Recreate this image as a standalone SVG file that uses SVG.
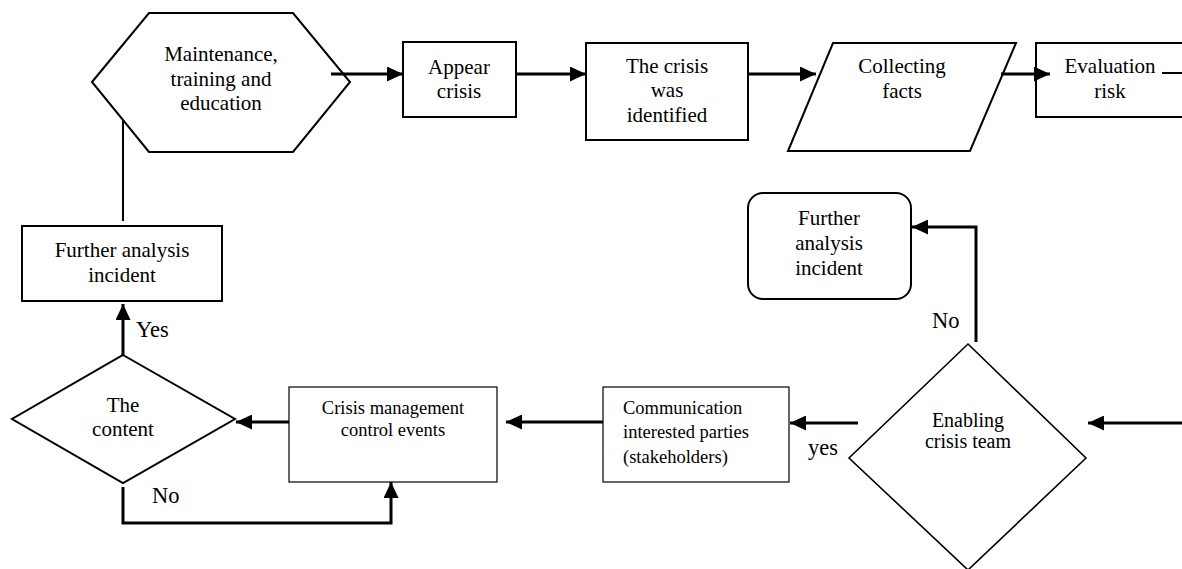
<svg xmlns="http://www.w3.org/2000/svg" width="1182" height="569" viewBox="0 0 1182 569" font-family="'Liberation Serif', 'DejaVu Serif', serif">
  <style>
    text { fill: #000; text-anchor: middle; }
    .t21 { font-size: 21px; }
    .t20 { font-size: 20px; }
    .t18 { font-size: 18.5px; }
    .lbl { font-size: 22.5px; text-anchor: start; }
    .shape { fill: #fff; stroke: #000; stroke-width: 2; }
    .thin { fill: #fff; stroke: #000; stroke-width: 1.2; }
    .conn { fill: none; stroke: #000; stroke-width: 3; }
    .plain { fill: none; stroke: #000; stroke-width: 2; }
  </style>
  <defs>
    <marker id="arrow" markerUnits="userSpaceOnUse" markerWidth="16" markerHeight="15" refX="16" refY="7.5" orient="auto">
      <path d="M0,0 L16,7.5 L0,15 z" fill="#000"/>
    </marker>
  </defs>
  <rect width="1182" height="569" fill="#fff"/>

  <!-- nodes -->
  <g id="maintenance">
    <polygon class="shape" points="92,82 149,13 293,13 350,82 293,152 149,152"/>
    <text class="t21" x="221" y="61">Maintenance,</text>
    <text class="t21" x="221" y="86">training and</text>
    <text class="t21" x="221" y="110">education</text>
  </g>
  <g id="appear-crisis">
    <rect class="shape" x="403" y="42" width="113" height="75"/>
    <text class="t21" x="459" y="74">Appear</text>
    <text class="t21" x="459" y="98">crisis</text>
  </g>
  <g id="crisis-identified">
    <rect class="shape" x="586" y="43" width="162" height="97"/>
    <text class="t21" x="667" y="73">The crisis</text>
    <text class="t21" x="667" y="97">was</text>
    <text class="t21" x="667" y="122">identified</text>
  </g>
  <g id="collecting-facts">
    <polygon class="shape" points="833,43 1016,43 970,151 788,151"/>
    <text class="t21" x="902" y="73">Collecting</text>
    <text class="t21" x="902" y="98">facts</text>
  </g>
  <g id="evaluation-risk">
    <rect class="shape" x="1036" y="43" width="160" height="74"/>
    <text class="t21" x="1110" y="73">Evaluation</text>
    <text class="t21" x="1110" y="98">risk</text>
  </g>
  <g id="further-analysis-left">
    <rect class="shape" x="22" y="226" width="200" height="75"/>
    <text class="t21" x="122" y="257">Further analysis</text>
    <text class="t21" x="122" y="282">incident</text>
  </g>
  <g id="the-content">
    <polygon class="shape" points="123,355 235,419 123,483 12,419"/>
    <text class="t21" x="123" y="412">The</text>
    <text class="t21" x="123" y="436">content</text>
  </g>
  <g id="crisis-management">
    <rect class="thin" x="289" y="387" width="208" height="95"/>
    <text class="t18" x="393" y="414">Crisis management</text>
    <text class="t18" x="393" y="436">control events</text>
  </g>
  <g id="communication">
    <rect class="thin" x="603" y="387" width="186" height="95"/>
    <text class="t18" x="623" y="414" style="text-anchor:start">Communication</text>
    <text class="t18" x="623" y="438" style="text-anchor:start">interested parties</text>
    <text class="t18" x="623" y="463" style="text-anchor:start">(stakeholders)</text>
  </g>
  <g id="enabling-crisis-team">
    <polygon class="shape" style="stroke-width:1.6" points="968,344 1086,458 968,570 849,458"/>
    <text class="t20" x="968" y="427">Enabling</text>
    <text class="t20" x="968" y="448">crisis team</text>
  </g>
  <g id="further-analysis-right">
    <rect class="shape" x="748" y="193" width="163" height="106" rx="15" ry="15"/>
    <text class="t21" x="829" y="225">Further</text>
    <text class="t21" x="829" y="250">analysis</text>
    <text class="t21" x="829" y="275">incident</text>
  </g>

  <!-- connectors -->
  <g id="connectors">
    <path class="conn" d="M331,74 H403" marker-end="url(#arrow)"/>
    <path class="conn" d="M516,74 H586" marker-end="url(#arrow)"/>
    <path class="conn" d="M748,74 H816" marker-end="url(#arrow)"/>
    <path class="conn" d="M1001,74 H1050" marker-end="url(#arrow)"/>
    <path class="plain" d="M1162,73 H1182"/>
    <path class="plain" d="M123,221 V120"/>
    <path class="conn" d="M123,355 V304" marker-end="url(#arrow)"/>
    <path class="conn" d="M289,422 H236" marker-end="url(#arrow)"/>
    <path class="conn" d="M123,487 V523 H391 V482" marker-end="url(#arrow)"/>
    <path class="conn" d="M603,422 H506" marker-end="url(#arrow)"/>
    <path class="conn" d="M858,423 H790" marker-end="url(#arrow)"/>
    <path class="conn" d="M1182,423 H1088" marker-end="url(#arrow)"/>
    <path class="conn" d="M976,342 V227 H912" marker-end="url(#arrow)"/>
    <text class="lbl" x="136" y="337">Yes</text>
    <text class="lbl" x="152" y="503">No</text>
    <text class="lbl" x="808" y="455">yes</text>
    <text class="lbl" x="932" y="328">No</text>
  </g>
</svg>
